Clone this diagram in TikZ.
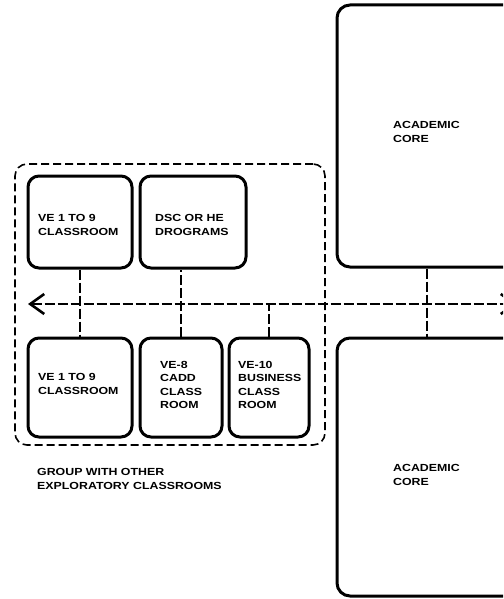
\documentclass[tikz,border=0pt]{standalone}
\usepackage{fontspec}
\newfontfamily\lblfont[FakeStretch=1.2]{Liberation Sans Bold}
\usetikzlibrary{arrows.meta}
\begin{document}
\begin{tikzpicture}[x=1pt,y=-1pt,
  room/.style={draw,line width=3pt,rounded corners=11pt,inner sep=0pt},
  core/.style={draw,line width=3pt,rounded corners=13pt,inner sep=0pt},
  grp/.style={draw,line width=1.6pt,dash pattern=on 8pt off 4pt,rounded corners=12pt,inner sep=0pt},
  conn/.style={line width=1.8pt,dash pattern=on 10pt off 3pt},
  txt/.style={inner sep=0pt,align=left,anchor=west,font=\lblfont\fontsize{10.3}{13.5}\selectfont}]
\useasboundingbox (0,0) rectangle (503,599);
\clip (0,0) rectangle (503,599);
% group box
\node[grp,minimum width=310pt,minimum height=281pt] (grp) at (170,304.5) {};
% rooms
\node[room,minimum width=104pt,minimum height=92pt] (b1) at (80,222) {};
\node[room,minimum width=106pt,minimum height=92pt] (b2) at (193,222) {};
\node[room,minimum width=104pt,minimum height=99pt] (b3) at (80,387.5) {};
\node[room,minimum width=82pt,minimum height=99pt] (b4) at (181,387.5) {};
\node[room,minimum width=80pt,minimum height=99pt] (b5) at (269,387.5) {};
% cores
\node[core,minimum width=363pt,minimum height=262pt] (c1) at (518.5,136) {};
\node[core,minimum width=363pt,minimum height=258pt] (c2) at (518.5,467) {};
% texts
\node[txt] (t1) at (38,225) {VE 1 TO 9\\CLASSROOM};
\node[txt] (t2) at (155,225) {DSC OR HE\\DROGRAMS};
\node[txt] (t3) at (38,384) {VE 1 TO 9\\CLASSROOM};
\node[txt] (t4) at (160,385) {VE-8\\CADD\\CLASS\\ROOM};
\node[txt] (t5) at (238,385) {VE-10\\BUSINESS\\CLASS\\ROOM};
\node[txt] (t6) at (393,132) {ACADEMIC\\CORE};
\node[txt] (t7) at (393,475) {ACADEMIC\\CORE};
\node[txt] (t8) at (37,479) {GROUP WITH OTHER\\EXPLORATORY CLASSROOMS};
% connectors
\coordinate (L) at (28,304);
\coordinate (R) at (517,304);
\coordinate (cx) at (427,0);
\draw[conn,{Straight Barb[length=14pt,width=20pt,line width=2.6pt]}-{Straight Barb[length=14pt,width=20pt,line width=2.6pt]}] (L) -- (R);
\draw[conn] (b1.south) -- (b3.north);
\draw[conn] (b4.north) -- (b4.north |- b2.south);
\draw[conn] (b5.north) -- (b5.north |- L);
\draw[conn] (c1.south -| cx) -- (c2.north -| cx);
\end{tikzpicture}
\end{document}
